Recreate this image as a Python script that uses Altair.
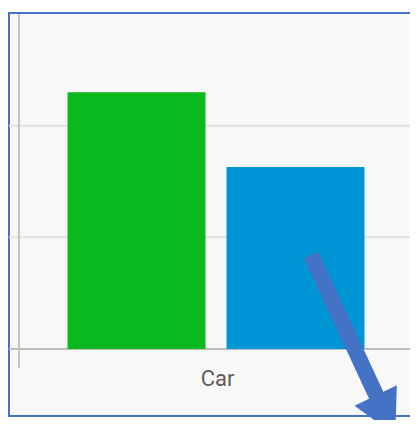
import altair as alt
import pandas as pd

categories = ["Car"]
series = ["Series 1", "Series 2"]
values = [23.0, 16.3]
bar_colors = ["#09b91d", "#0096d6"]
grid_values = [10, 20]
baseline = [0]

bars_df = pd.DataFrame({"cat": categories * len(series), "series": series, "value": values})
grid_df = pd.DataFrame({"v": grid_values})
base_df = pd.DataFrame({"v": baseline})
cat_df = pd.DataFrame({"cat": categories})
one = alt.Data(values=[{"a": 0}])

yscale = alt.Scale(domain=[0, 30], range=[341, 6], nice=False, zero=True)
xscale = alt.Scale(domain=categories, range=[11, 408], paddingInner=0, paddingOuter=0)

bg = alt.Chart(one).mark_rect(fill="#f8f8f8", stroke="#4472c4", strokeWidth=2).encode(
    x=alt.value(1), x2=alt.value(430), y=alt.value(5), y2=alt.value(408)
)

grid = alt.Chart(grid_df).mark_rule(color="#e2e2e2", strokeWidth=2).encode(
    y=alt.Y("v:Q", scale=yscale, axis=None), x=alt.value(1), x2=alt.value(410)
)

base = alt.Chart(base_df).mark_rule(color="#bdbdbd", strokeWidth=2).encode(
    y=alt.Y("v:Q", scale=yscale, axis=None), x=alt.value(1), x2=alt.value(410)
)

band_start = alt.Chart(cat_df).mark_rule(color="#c4c4c4", strokeWidth=2).encode(
    x=alt.X("cat:N", scale=xscale, axis=None, bandPosition=0), y=alt.value(6), y2=alt.value(360)
)
band_end = alt.Chart(cat_df).mark_rule(color="#c4c4c4", strokeWidth=2).encode(
    x=alt.X("cat:N", scale=xscale, axis=None, bandPosition=1), y=alt.value(6), y2=alt.value(360)
)

bars = alt.Chart(bars_df).mark_bar().encode(
    x=alt.X("cat:N", scale=xscale, axis=None),
    xOffset=alt.XOffset("series:N", scale=alt.Scale(paddingInner=0.132, paddingOuter=0.3145, align=0.485)),
    y=alt.Y("value:Q", scale=yscale, axis=None),
    color=alt.Color("series:N", scale=alt.Scale(domain=series, range=bar_colors), legend=None),
)

label = alt.Chart(cat_df).mark_text(
    font="Roboto", fontSize=22, color="#5c5c5c", baseline="alphabetic", align="center"
).encode(
    x=alt.X("cat:N", scale=xscale, axis=None), y=alt.value(378), text="cat:N"
)

shaft = alt.Chart(one).mark_rule(color="#4472c4", strokeWidth=16, strokeCap="butt").encode(
    x=alt.value(303), y=alt.value(247), x2=alt.value(376), y2=alt.value(404)
)

head = alt.Chart(one).mark_point(
    shape="M -1 -0.95 L 1 -0.95 L 0 0.95 Z", filled=True, fill="#4472c4", opacity=1,
    size=2209, angle=334, strokeWidth=0
).encode(x=alt.value(377.5), y=alt.value(407.5))

chart = alt.layer(bg, grid, base, band_start, band_end, bars, label, shaft, head).properties(
    width=402, height=412, autosize=alt.AutoSizeParams(type="none"), padding=0
).configure_view(stroke=None)

chart.save("out.html", embed_options={"renderer": "svg", "actions": False})
